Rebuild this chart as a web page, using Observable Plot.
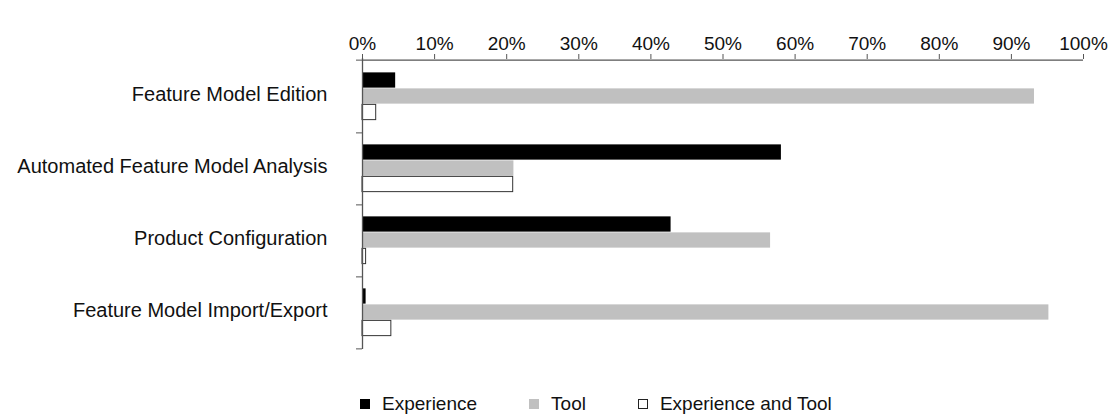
<!DOCTYPE html>
<html>
<head>
<meta charset="utf-8">
<script src="https://cdn.jsdelivr.net/npm/d3@7"></script>
<script src="https://cdn.jsdelivr.net/npm/@observablehq/plot@0.6"></script>
<style>
  html, body { margin: 0; padding: 0; background: #fff; overflow: hidden; }
  #wrap { position: relative; width: 1111px; height: 414px; font-family: "Liberation Sans", Arial, sans-serif; }
  #legend { position: absolute; left: 360px; top: 393px; display: flex; align-items: center; font-size: 19px; color: #111; }
  .item { display: flex; align-items: center; margin-right: 52px; }
  .sw { width: 10px; height: 10px; margin-right: 12px; box-sizing: border-box; }
</style>
</head>
<body>
<div id="wrap"><div id="chart"></div><div id="legend"></div></div>
<script>
const categories = ["Feature Model Edition", "Automated Feature Model Analysis", "Product Configuration", "Feature Model Import/Export"];
const experience = [4.6, 58.1, 42.8, 0.5];
const tool = [93.2, 21.0, 56.6, 95.2];
const experienceAndTool = [1.9, 20.9, 0.5, 4.0];
const xTicks = [0, 10, 20, 30, 40, 50, 60, 70, 80, 90, 100];
const seriesNames = ["Experience", "Tool", "Experience and Tool"];

const rows = categories.map((c, i) => ({category: c, experience: experience[i], tool: tool[i], both: experienceAndTool[i]}));

const H = 370, mt = 58, mb = 21;
const band = (H - mt - mb) / categories.length;
const half = band / 2;
const barH = 16;
const inset = (band - barH) / 2;
const axisColor = "#555";

const chart = Plot.plot({
  width: 1111,
  height: H,
  marginLeft: 362,
  marginRight: 28,
  marginTop: mt,
  marginBottom: mb,
  x: {domain: [0, 100], axis: null, label: null},
  y: {domain: categories, padding: 0, axis: null, label: null},
  style: {fontFamily: "'Liberation Sans', Arial, sans-serif", fontSize: "19px", color: "#111", background: "#fff"},
  marks: [
    Plot.barX(rows, {x: "experience", y: "category", fill: "#000", insetTop: inset, insetBottom: inset, dy: -barH}),
    Plot.barX(rows, {x: "tool", y: "category", fill: "#c0c0c0", insetTop: inset, insetBottom: inset}),
    Plot.barX(rows, {x: "both", y: "category", fill: "#fff", stroke: "#333", strokeWidth: 1, insetTop: inset, insetBottom: inset, dy: barH}),
    Plot.ruleX([0], {stroke: axisColor, strokeWidth: 1.3}),
    Plot.ruleY([categories[0]], {dy: -half, stroke: axisColor, strokeWidth: 1.3}),
    Plot.axisX({anchor: "top", ticks: xTicks, tickSize: 5, tickPadding: 4, tickFormat: d => d + "%", stroke: axisColor, fontSize: 19, label: null}),
    Plot.axisY({anchor: "left", tickSize: 0, tickPadding: 35, fontSize: 20, dy: -2, label: null}),
    Plot.axisY({anchor: "left", ticks: categories, tickSize: 6, text: null, dy: half, stroke: axisColor, label: null}),
    Plot.axisY({anchor: "left", ticks: [categories[0]], tickSize: 6, text: null, dy: -half, stroke: axisColor, label: null})
  ]
});
document.getElementById("chart").appendChild(chart);

const swatchStyles = [
  {background: "#000"},
  {background: "#c0c0c0"},
  {background: "#fff", border: "1.5px solid #222"}
];
const legend = document.getElementById("legend");
seriesNames.forEach((name, i) => {
  const item = document.createElement("div");
  item.className = "item";
  const sw = document.createElement("span");
  sw.className = "sw";
  Object.assign(sw.style, swatchStyles[i]);
  const label = document.createElement("span");
  label.textContent = name;
  item.appendChild(sw);
  item.appendChild(label);
  legend.appendChild(item);
});
</script>
</body>
</html>
